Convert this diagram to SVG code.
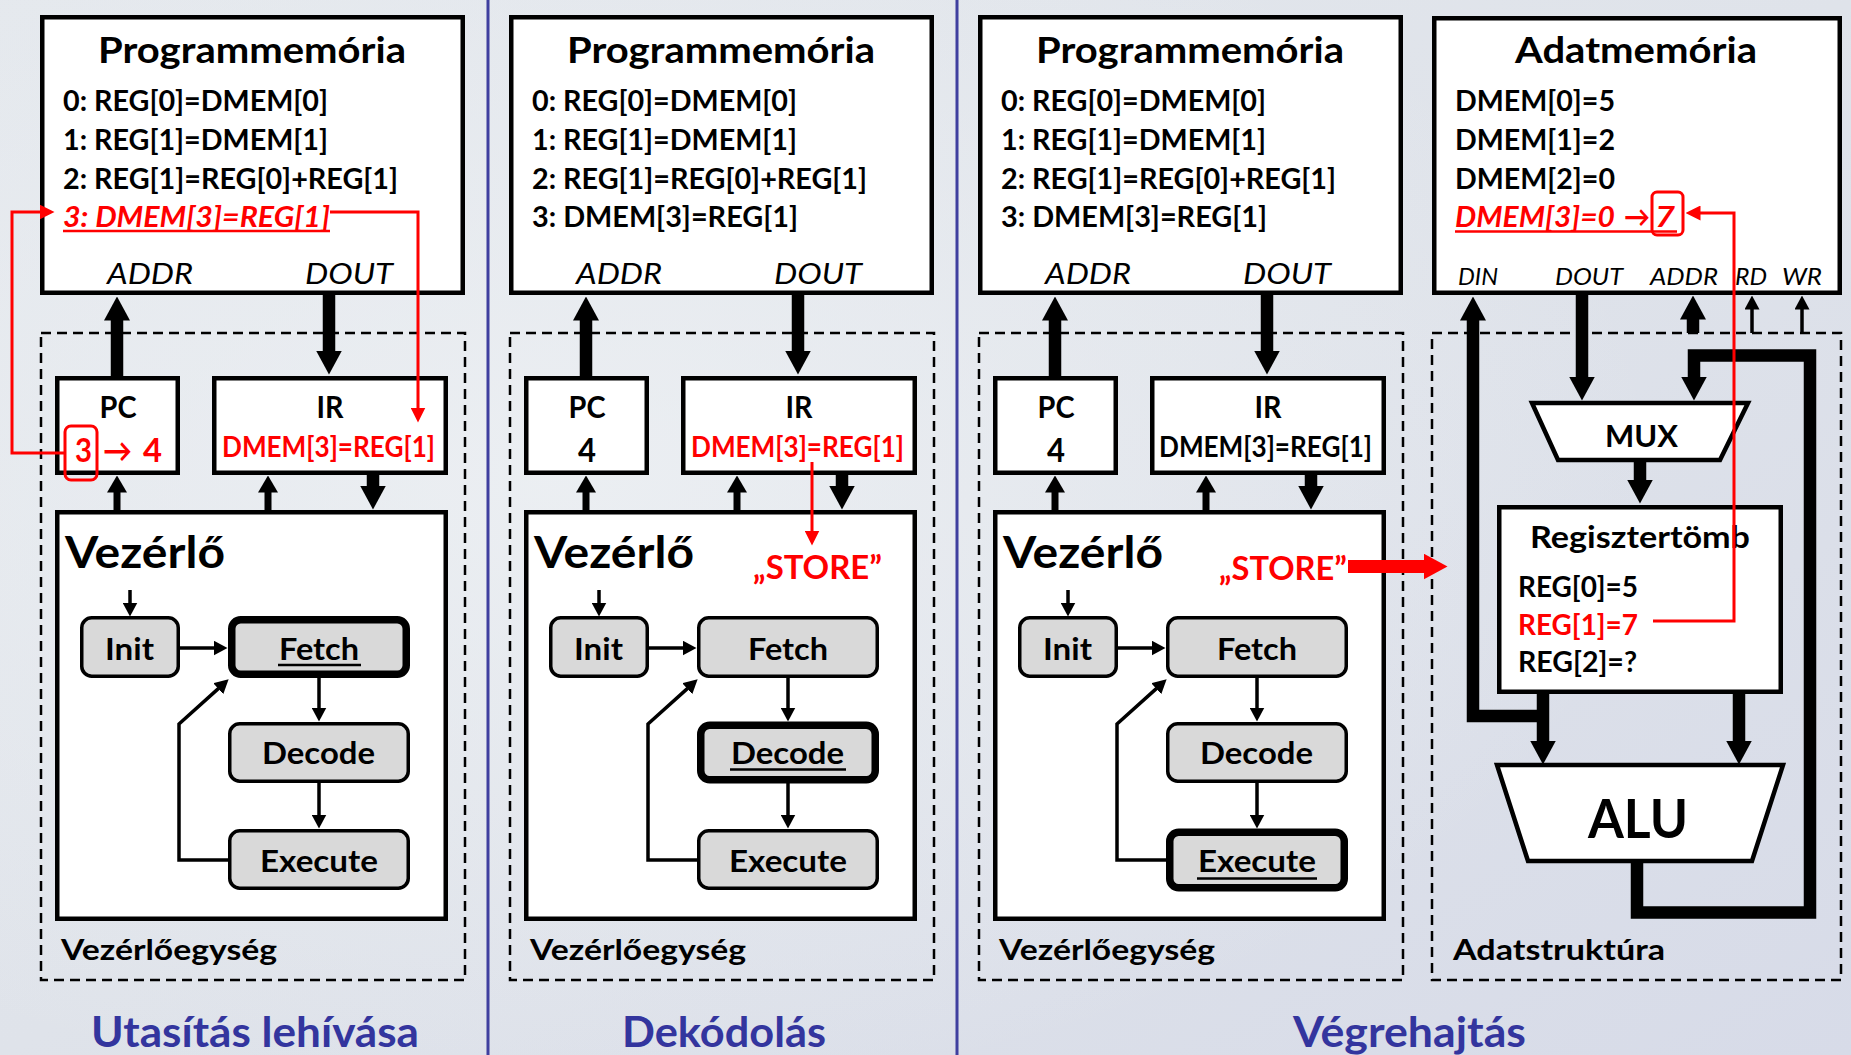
<svg xmlns="http://www.w3.org/2000/svg" width="1851" height="1055" viewBox="0 0 1851 1055">
<defs>
  <linearGradient id="bg" x1="0" y1="0" x2="1" y2="1">
    <stop offset="0" stop-color="#e4e8ed"/>
    <stop offset="0.5" stop-color="#dfe3ea"/>
    <stop offset="1" stop-color="#d7dbe8"/>
  </linearGradient>
  <radialGradient id="glow" cx="0.3" cy="0.45" r="0.6">
    <stop offset="0" stop-color="#eef1f4" stop-opacity="0.8"/>
    <stop offset="1" stop-color="#eef1f4" stop-opacity="0"/>
  </radialGradient>
  <marker id="mBus" markerUnits="userSpaceOnUse" markerWidth="24" markerHeight="26" viewBox="0 0 24 26" refX="0.5" refY="13" orient="auto">
    <path d="M0,0 L24,13 L0,26 Z" fill="#000"/>
  </marker>
  <marker id="mMid" markerUnits="userSpaceOnUse" markerWidth="17" markerHeight="20" viewBox="0 0 17 20" refX="0.5" refY="10" orient="auto">
    <path d="M0,0 L17,10 L0,20 Z" fill="#000"/>
  </marker>
  <marker id="mThin" markerUnits="userSpaceOnUse" markerWidth="14" markerHeight="15" viewBox="0 0 14 15" refX="0.5" refY="7.5" orient="auto">
    <path d="M0,0 L14,7.5 L0,15 Z" fill="#000"/>
  </marker>
  <marker id="mRed" markerUnits="userSpaceOnUse" markerWidth="15" markerHeight="15" viewBox="0 0 15 15" refX="0.5" refY="7.5" orient="auto">
    <path d="M0,0 L15,7.5 L0,15 Z" fill="#ff0000"/>
  </marker>
  <marker id="mRedBus" markerUnits="userSpaceOnUse" markerWidth="24" markerHeight="26" viewBox="0 0 24 26" refX="0.5" refY="13" orient="auto">
    <path d="M0,0 L24,13 L0,26 Z" fill="#ff0000"/>
  </marker>
  <style>
    .t { font-family: Lato, "Open Sans", "DejaVu Sans", sans-serif; font-weight: 700; fill: #000; }
    .i { font-style: italic; font-weight: 400; }
    .bi { font-style: italic; }
    .red { fill: #ff0000; }
    .blue { fill: #33359e; }
    .box { fill: #fff; stroke: #000; stroke-width: 4.5; }
    .state { fill: #d9d9d9; stroke: #000; stroke-width: 3.5; }
    .on { stroke-width: 7.5; }
    .dash { fill: none; stroke: #000; stroke-width: 2.5; stroke-dasharray: 10 6; }
    .bus { fill: none; stroke: #000; stroke-width: 12.5; }
    .mid { fill: none; stroke: #000; stroke-width: 7; }
    .wire { fill: none; stroke: #000; stroke-width: 3.5; }
    .rwire { fill: none; stroke: #ff0000; stroke-width: 3; }
    .rbox { fill: none; stroke: #ff0000; stroke-width: 3; }
    .uline { stroke-width: 2.5; }
    .sep { stroke: #3f3f9f; stroke-width: 3; }
  </style>
</defs>

<!-- backdrop -->
<rect x="0" y="0" width="1851" height="1055" fill="url(#bg)"/>
<rect x="0" y="0" width="1851" height="1055" fill="url(#glow)"/>

<!-- column separators -->
<g id="separators">
  <line class="sep" x1="488" y1="0" x2="488" y2="1055"/>
  <line class="sep" x1="957" y1="0" x2="957" y2="1055"/>
</g>

<!-- ===== Column 1: instruction fetch ===== -->
<g id="col-fetch">
  <g id="cu-frame-1">
    <rect class="dash" x="41" y="333" width="424" height="647"/>
    <text class="t" x="61" y="960" font-size="29" textLength="216" lengthAdjust="spacingAndGlyphs">Vezérlőegység</text>
  </g>
  <g id="progmem-1">
    <rect class="box" x="42.25" y="17.25" width="420.5" height="275.5"/>
    <text class="t" x="252" y="63" font-size="37" text-anchor="middle" textLength="308" lengthAdjust="spacingAndGlyphs">Programmemória</text>
    <text class="t" x="63" y="111" font-size="29" textLength="265" lengthAdjust="spacingAndGlyphs">0: REG[0]=DMEM[0]</text>
    <text class="t" x="63" y="150" font-size="29" textLength="265" lengthAdjust="spacingAndGlyphs">1: REG[1]=DMEM[1]</text>
    <text class="t" x="63" y="188.5" font-size="29" textLength="335" lengthAdjust="spacingAndGlyphs">2: REG[1]=REG[0]+REG[1]</text>
    <text class="t bi red" x="63" y="227" font-size="29" textLength="267" lengthAdjust="spacingAndGlyphs">3: DMEM[3]=REG[1]</text>
    <line class="rwire uline" x1="63" y1="231" x2="330" y2="231"/>
    <text class="t i" x="107" y="284" font-size="29" textLength="86" lengthAdjust="spacingAndGlyphs">ADDR</text>
    <text class="t i" x="305" y="284" font-size="29" textLength="88" lengthAdjust="spacingAndGlyphs">DOUT</text>
  </g>
  <g id="pc-1">
    <rect class="box" x="57.25" y="378.25" width="120.5" height="94.5"/>
    <text class="t" x="118" y="418" font-size="30" text-anchor="middle" textLength="37" lengthAdjust="spacingAndGlyphs">PC</text>
    <text class="t red" x="75" y="462" font-size="32" textLength="17" lengthAdjust="spacingAndGlyphs">3</text>
    <text class="t red" x="103" y="462" font-size="32" textLength="29" lengthAdjust="spacingAndGlyphs">→</text>
    <text class="t red" x="143" y="462" font-size="32" textLength="19" lengthAdjust="spacingAndGlyphs">4</text>
    <rect class="rbox" x="65" y="426" width="32" height="54" rx="6"/>
  </g>
  <g id="ir-1">
    <rect class="box" x="214.25" y="378.25" width="231.5" height="94.5"/>
    <text class="t" x="330" y="418" font-size="30" text-anchor="middle" textLength="27" lengthAdjust="spacingAndGlyphs">IR</text>
    <text class="t red" x="222" y="457" font-size="28" textLength="213" lengthAdjust="spacingAndGlyphs">DMEM[3]=REG[1]</text>
  </g>
  <g id="ctrl-1">
    <rect class="box" x="57.25" y="512.25" width="388.5" height="406.5"/>
    <text class="t" x="65" y="568" font-size="43" textLength="160" lengthAdjust="spacingAndGlyphs">Vezérlő</text>
  </g>
  <g id="init-1">
    <rect class="state" x="81.75" y="617.75" width="96.5" height="58.5" rx="10"/>
    <text class="t" x="129.5" y="660" font-size="31" text-anchor="middle" textLength="49" lengthAdjust="spacingAndGlyphs">Init</text>
  </g>
  <g id="fetch-1">
    <rect class="state on" x="231.75" y="619.75" width="174.5" height="54.5" rx="9"/>
    <text class="t" x="319" y="660" font-size="31" text-anchor="middle" textLength="80" lengthAdjust="spacingAndGlyphs">Fetch</text>
    <line x1="278" y1="665" x2="361" y2="665" stroke="#000" stroke-width="2.5"/>
  </g>
  <g id="decode-1">
    <rect class="state" x="229.75" y="723.75" width="178.5" height="57.5" rx="10"/>
    <text class="t" x="318.5" y="764" font-size="31" text-anchor="middle" textLength="113" lengthAdjust="spacingAndGlyphs">Decode</text>
  </g>
  <g id="execute-1">
    <rect class="state" x="229.75" y="830.75" width="178.5" height="57.5" rx="10"/>
    <text class="t" x="319" y="872" font-size="31" text-anchor="middle" textLength="118" lengthAdjust="spacingAndGlyphs">Execute</text>
  </g>
  <text id="title-1" class="t blue" x="91" y="1047" font-size="42" textLength="328" lengthAdjust="spacingAndGlyphs">Utasítás lehívása</text>
</g>

<!-- ===== Column 2: decode ===== -->
<g id="col-decode" transform="translate(469,0)">
  <g id="cu-frame-2">
    <rect class="dash" x="41" y="333" width="424" height="647"/>
    <text class="t" x="61" y="960" font-size="29" textLength="216" lengthAdjust="spacingAndGlyphs">Vezérlőegység</text>
  </g>
  <g id="progmem-2">
    <rect class="box" x="42.25" y="17.25" width="420.5" height="275.5"/>
    <text class="t" x="252" y="63" font-size="37" text-anchor="middle" textLength="308" lengthAdjust="spacingAndGlyphs">Programmemória</text>
    <text class="t" x="63" y="111" font-size="29" textLength="265" lengthAdjust="spacingAndGlyphs">0: REG[0]=DMEM[0]</text>
    <text class="t" x="63" y="150" font-size="29" textLength="265" lengthAdjust="spacingAndGlyphs">1: REG[1]=DMEM[1]</text>
    <text class="t" x="63" y="188.5" font-size="29" textLength="335" lengthAdjust="spacingAndGlyphs">2: REG[1]=REG[0]+REG[1]</text>
    <text class="t" x="63" y="227" font-size="29" textLength="266" lengthAdjust="spacingAndGlyphs">3: DMEM[3]=REG[1]</text>
    <text class="t i" x="107" y="284" font-size="29" textLength="86" lengthAdjust="spacingAndGlyphs">ADDR</text>
    <text class="t i" x="305" y="284" font-size="29" textLength="88" lengthAdjust="spacingAndGlyphs">DOUT</text>
  </g>
  <g id="pc-2">
    <rect class="box" x="57.25" y="378.25" width="120.5" height="94.5"/>
    <text class="t" x="118" y="418" font-size="30" text-anchor="middle" textLength="37" lengthAdjust="spacingAndGlyphs">PC</text>
    <text class="t" x="118" y="462" font-size="32" text-anchor="middle" textLength="18" lengthAdjust="spacingAndGlyphs">4</text>
  </g>
  <g id="ir-2">
    <rect class="box" x="214.25" y="378.25" width="231.5" height="94.5"/>
    <text class="t" x="330" y="418" font-size="30" text-anchor="middle" textLength="27" lengthAdjust="spacingAndGlyphs">IR</text>
    <text class="t red" x="222" y="457" font-size="28" textLength="213" lengthAdjust="spacingAndGlyphs">DMEM[3]=REG[1]</text>
  </g>
  <g id="ctrl-2">
    <rect class="box" x="57.25" y="512.25" width="388.5" height="406.5"/>
    <text class="t" x="65" y="568" font-size="43" textLength="160" lengthAdjust="spacingAndGlyphs">Vezérlő</text>
    <text class="t red" x="284" y="579" font-size="32" textLength="129" lengthAdjust="spacingAndGlyphs">„STORE”</text>
  </g>
  <g id="init-2">
    <rect class="state" x="81.75" y="617.75" width="96.5" height="58.5" rx="10"/>
    <text class="t" x="129.5" y="660" font-size="31" text-anchor="middle" textLength="49" lengthAdjust="spacingAndGlyphs">Init</text>
  </g>
  <g id="fetch-2">
    <rect class="state" x="229.75" y="617.75" width="178.5" height="58.5" rx="10"/>
    <text class="t" x="319" y="660" font-size="31" text-anchor="middle" textLength="80" lengthAdjust="spacingAndGlyphs">Fetch</text>
  </g>
  <g id="decode-2">
    <rect class="state on" x="231.75" y="725.25" width="174.5" height="54.5" rx="9"/>
    <text class="t" x="318.5" y="764" font-size="31" text-anchor="middle" textLength="113" lengthAdjust="spacingAndGlyphs">Decode</text>
    <line x1="261" y1="769.5" x2="377" y2="769.5" stroke="#000" stroke-width="2.5"/>
  </g>
  <g id="execute-2">
    <rect class="state" x="229.75" y="830.75" width="178.5" height="57.5" rx="10"/>
    <text class="t" x="319" y="872" font-size="31" text-anchor="middle" textLength="118" lengthAdjust="spacingAndGlyphs">Execute</text>
  </g>
  <text id="title-2" class="t blue" x="153" y="1047" font-size="42" textLength="204" lengthAdjust="spacingAndGlyphs">Dekódolás</text>
</g>

<!-- ===== Column 3: execute (control unit side) ===== -->
<g id="col-execute" transform="translate(938,0)">
  <g id="cu-frame-3">
    <rect class="dash" x="41" y="333" width="424" height="647"/>
    <text class="t" x="61" y="960" font-size="29" textLength="216" lengthAdjust="spacingAndGlyphs">Vezérlőegység</text>
  </g>
  <g id="progmem-3">
    <rect class="box" x="42.25" y="17.25" width="420.5" height="275.5"/>
    <text class="t" x="252" y="63" font-size="37" text-anchor="middle" textLength="308" lengthAdjust="spacingAndGlyphs">Programmemória</text>
    <text class="t" x="63" y="111" font-size="29" textLength="265" lengthAdjust="spacingAndGlyphs">0: REG[0]=DMEM[0]</text>
    <text class="t" x="63" y="150" font-size="29" textLength="265" lengthAdjust="spacingAndGlyphs">1: REG[1]=DMEM[1]</text>
    <text class="t" x="63" y="188.5" font-size="29" textLength="335" lengthAdjust="spacingAndGlyphs">2: REG[1]=REG[0]+REG[1]</text>
    <text class="t" x="63" y="227" font-size="29" textLength="266" lengthAdjust="spacingAndGlyphs">3: DMEM[3]=REG[1]</text>
    <text class="t i" x="107" y="284" font-size="29" textLength="86" lengthAdjust="spacingAndGlyphs">ADDR</text>
    <text class="t i" x="305" y="284" font-size="29" textLength="88" lengthAdjust="spacingAndGlyphs">DOUT</text>
  </g>
  <g id="pc-3">
    <rect class="box" x="57.25" y="378.25" width="120.5" height="94.5"/>
    <text class="t" x="118" y="418" font-size="30" text-anchor="middle" textLength="37" lengthAdjust="spacingAndGlyphs">PC</text>
    <text class="t" x="118" y="462" font-size="32" text-anchor="middle" textLength="18" lengthAdjust="spacingAndGlyphs">4</text>
  </g>
  <g id="ir-3">
    <rect class="box" x="214.25" y="378.25" width="231.5" height="94.5"/>
    <text class="t" x="330" y="418" font-size="30" text-anchor="middle" textLength="27" lengthAdjust="spacingAndGlyphs">IR</text>
    <text class="t" x="221" y="457" font-size="28" textLength="213" lengthAdjust="spacingAndGlyphs">DMEM[3]=REG[1]</text>
  </g>
  <g id="ctrl-3">
    <rect class="box" x="57.25" y="512.25" width="388.5" height="406.5"/>
    <text class="t" x="65" y="568" font-size="43" textLength="160" lengthAdjust="spacingAndGlyphs">Vezérlő</text>
    <text class="t red" x="281" y="580" font-size="32" textLength="128" lengthAdjust="spacingAndGlyphs">„STORE”</text>
  </g>
  <g id="init-3">
    <rect class="state" x="81.75" y="617.75" width="96.5" height="58.5" rx="10"/>
    <text class="t" x="129.5" y="660" font-size="31" text-anchor="middle" textLength="49" lengthAdjust="spacingAndGlyphs">Init</text>
  </g>
  <g id="fetch-3">
    <rect class="state" x="229.75" y="617.75" width="178.5" height="58.5" rx="10"/>
    <text class="t" x="319" y="660" font-size="31" text-anchor="middle" textLength="80" lengthAdjust="spacingAndGlyphs">Fetch</text>
  </g>
  <g id="decode-3">
    <rect class="state" x="229.75" y="723.75" width="178.5" height="57.5" rx="10"/>
    <text class="t" x="318.5" y="764" font-size="31" text-anchor="middle" textLength="113" lengthAdjust="spacingAndGlyphs">Decode</text>
  </g>
  <g id="execute-3">
    <rect class="state on" x="231.75" y="832.25" width="174.5" height="55.5" rx="9"/>
    <text class="t" x="319" y="872" font-size="31" text-anchor="middle" textLength="118" lengthAdjust="spacingAndGlyphs">Execute</text>
    <line x1="259" y1="878.5" x2="379" y2="878.5" stroke="#000" stroke-width="2.5"/>
  </g>
  <text id="title-3" class="t blue" x="355" y="1047" font-size="42" textLength="233" lengthAdjust="spacingAndGlyphs">Végrehajtás</text>
</g>

<!-- ===== Column 4: datapath ===== -->
<g id="col-datapath">
  <g id="dp-frame">
    <rect class="dash" x="1432" y="333" width="409" height="647"/>
    <text class="t" x="1453" y="960" font-size="29" textLength="212" lengthAdjust="spacingAndGlyphs">Adatstruktúra</text>
  </g>
  <g id="datamem">
    <rect class="box" x="1434.25" y="18.25" width="405.5" height="274.5"/>
    <text class="t" x="1636" y="63" font-size="37" text-anchor="middle" textLength="242" lengthAdjust="spacingAndGlyphs">Adatmemória</text>
    <text class="t" x="1455" y="111" font-size="29" textLength="160" lengthAdjust="spacingAndGlyphs">DMEM[0]=5</text>
    <text class="t" x="1455" y="150" font-size="29" textLength="160" lengthAdjust="spacingAndGlyphs">DMEM[1]=2</text>
    <text class="t" x="1455" y="188.5" font-size="29" textLength="160" lengthAdjust="spacingAndGlyphs">DMEM[2]=0</text>
    <text class="t bi red" x="1455" y="227" font-size="29" textLength="160" lengthAdjust="spacingAndGlyphs">DMEM[3]=0</text>
    <text class="t bi red" x="1624" y="227" font-size="29" textLength="26" lengthAdjust="spacingAndGlyphs">→</text>
    <text class="t bi red" x="1655" y="227" font-size="29" textLength="20" lengthAdjust="spacingAndGlyphs">7</text>
    <line class="rwire uline" x1="1455" y1="231.5" x2="1677" y2="231.5"/>
    <rect class="rbox" x="1652" y="192" width="31" height="43" rx="5"/>
    <text class="t i" x="1458" y="285" font-size="24" textLength="40" lengthAdjust="spacingAndGlyphs">DIN</text>
    <text class="t i" x="1555" y="285" font-size="24" textLength="68" lengthAdjust="spacingAndGlyphs">DOUT</text>
    <text class="t i" x="1650" y="285" font-size="24" textLength="68" lengthAdjust="spacingAndGlyphs">ADDR</text>
    <text class="t i" x="1735" y="285" font-size="24" textLength="32" lengthAdjust="spacingAndGlyphs">RD</text>
    <text class="t i" x="1782" y="285" font-size="24" textLength="40" lengthAdjust="spacingAndGlyphs">WR</text>
  </g>
  <g id="mux">
    <path class="box" d="M1532,403 L1748,403 L1720,460 L1558,460 Z"/>
    <text class="t" x="1641.5" y="447" font-size="31" text-anchor="middle" textLength="73" lengthAdjust="spacingAndGlyphs">MUX</text>
  </g>
  <g id="regfile">
    <rect class="box" x="1499.25" y="507.25" width="281.5" height="184.5"/>
    <text class="t" x="1530" y="548" font-size="30" textLength="220" lengthAdjust="spacingAndGlyphs">Regisztertömb</text>
    <text class="t" x="1518" y="597" font-size="28" textLength="120" lengthAdjust="spacingAndGlyphs">REG[0]=5</text>
    <text class="t red" x="1518" y="634.5" font-size="28" textLength="120" lengthAdjust="spacingAndGlyphs">REG[1]=7</text>
    <text class="t" x="1518" y="672" font-size="28" textLength="119" lengthAdjust="spacingAndGlyphs">REG[2]=?</text>
  </g>
  <g id="alu">
    <path class="box" d="M1497,765 L1783,765 L1752,861 L1528,861 Z"/>
    <text class="t" x="1638" y="838" font-size="53" text-anchor="middle" textLength="100" lengthAdjust="spacingAndGlyphs">ALU</text>
  </g>
</g>

<!-- ===== connectors ===== -->
<g id="connectors">
  <!-- column 1 -->
  <path class="bus" d="M117,376 V320" marker-end="url(#mBus)"/>
  <path class="bus" d="M329,295 V351" marker-end="url(#mBus)"/>
  <path class="mid" d="M117,511 V492" marker-end="url(#mMid)"/>
  <path class="mid" d="M268,511 V492" marker-end="url(#mMid)"/>
  <path class="bus" d="M373,474 V486" marker-end="url(#mBus)"/>
  <path class="wire" d="M130,590 V603" marker-end="url(#mThin)"/>
  <path class="wire" d="M180,648 H214" marker-end="url(#mThin)"/>
  <path class="wire" d="M319,678 V708" marker-end="url(#mThin)"/>
  <path class="wire" d="M319,783 V815" marker-end="url(#mThin)"/>
  <path class="wire" d="M229,860 H179 V724 L218.6,688.4" marker-end="url(#mThin)"/>
  <path class="rwire" d="M65,453 H12 V212 H40" marker-end="url(#mRed)"/>
  <path class="rwire" d="M330,212 H418 V408" marker-end="url(#mRed)"/>

  <!-- column 2 -->
  <g transform="translate(469,0)">
    <path class="bus" d="M117,376 V320" marker-end="url(#mBus)"/>
    <path class="bus" d="M329,295 V351" marker-end="url(#mBus)"/>
    <path class="mid" d="M117,511 V492" marker-end="url(#mMid)"/>
    <path class="mid" d="M268,511 V492" marker-end="url(#mMid)"/>
    <path class="bus" d="M373,474 V486" marker-end="url(#mBus)"/>
    <path class="wire" d="M130,590 V603" marker-end="url(#mThin)"/>
    <path class="wire" d="M180,648 H214" marker-end="url(#mThin)"/>
    <path class="wire" d="M319,678 V708" marker-end="url(#mThin)"/>
    <path class="wire" d="M319,783 V815" marker-end="url(#mThin)"/>
    <path class="wire" d="M229,860 H179 V724 L218.6,688.4" marker-end="url(#mThin)"/>
    <path class="rwire" d="M343,462 V531" marker-end="url(#mRed)"/>
  </g>

  <!-- column 3 -->
  <g transform="translate(938,0)">
    <path class="bus" d="M117,376 V320" marker-end="url(#mBus)"/>
    <path class="bus" d="M329,295 V351" marker-end="url(#mBus)"/>
    <path class="mid" d="M117,511 V492" marker-end="url(#mMid)"/>
    <path class="mid" d="M268,511 V492" marker-end="url(#mMid)"/>
    <path class="bus" d="M373,474 V486" marker-end="url(#mBus)"/>
    <path class="wire" d="M130,590 V603" marker-end="url(#mThin)"/>
    <path class="wire" d="M180,648 H214" marker-end="url(#mThin)"/>
    <path class="wire" d="M319,678 V708" marker-end="url(#mThin)"/>
    <path class="wire" d="M319,783 V815" marker-end="url(#mThin)"/>
    <path class="wire" d="M229,860 H179 V724 L218.6,688.4" marker-end="url(#mThin)"/>
  </g>
  <path d="M1348,566.5 H1424" fill="none" stroke="#ff0000" stroke-width="13" marker-end="url(#mRedBus)"/>

  <!-- datapath -->
  <path class="bus" d="M1549,716 H1473 V320" marker-end="url(#mBus)"/>
  <path class="bus" d="M1582,295 V377" marker-end="url(#mBus)"/>
  <path class="bus" d="M1693,333 V319" marker-end="url(#mBus)"/>
  <path class="wire" d="M1752,333 V309" stroke-width="3" marker-end="url(#mThin)"/>
  <path class="wire" d="M1802,333 V309" stroke-width="3" marker-end="url(#mThin)"/>
  <path class="bus" d="M1640,460 V480" marker-end="url(#mBus)"/>
  <path class="bus" d="M1543,694 V741" marker-end="url(#mBus)"/>
  <path class="bus" d="M1739,694 V741" marker-end="url(#mBus)"/>
  <path class="bus" d="M1637,861 V912.5 H1810 V355.5 H1694 V377" marker-end="url(#mBus)"/>
  <path class="rwire" d="M1653,621 H1734 V213 H1700" marker-end="url(#mRed)"/>
</g>
</svg>
